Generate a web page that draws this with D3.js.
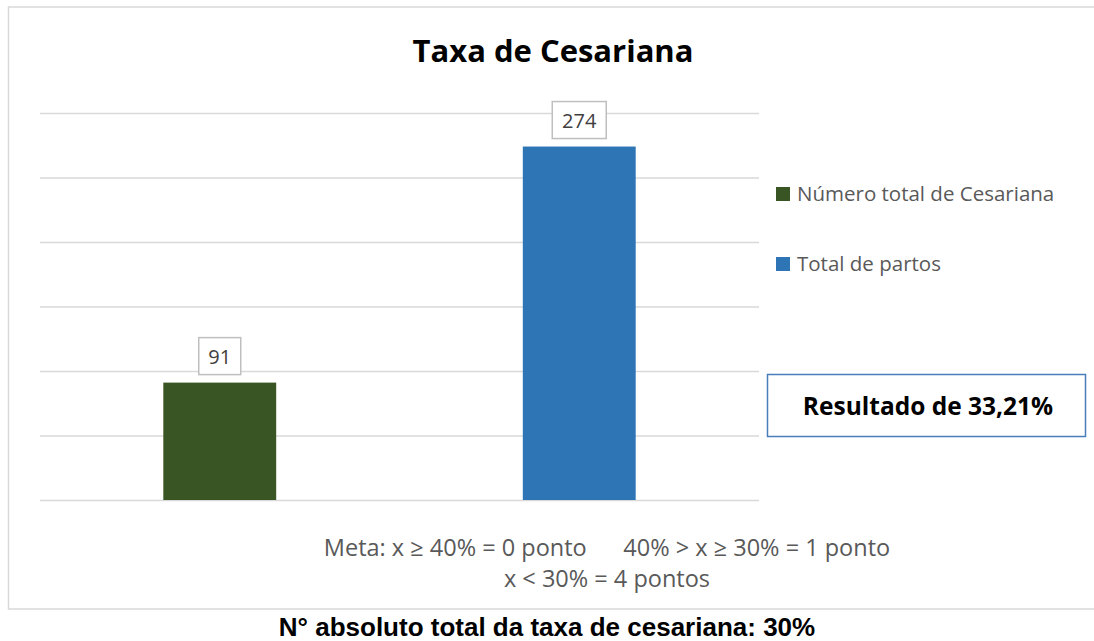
<!DOCTYPE html>
<html lang="pt">
<head>
    <meta charset="UTF-8" />
    <title>Taxa de Cesariana</title>
    <script src="https://d3js.org/d3.v7.min.js"></script>
    <style>
        body { margin: 0; background: #fff; }
        .gridlines line { stroke: #d9d9d9; stroke-width: 1.5; }
        .gridlines .domain { stroke: none; }
        text { font-family: "Open Sans", Lato, sans-serif; }
    </style>
</head>
<body>
    <svg id="chart" width="1094" height="641"></svg>
    <script>
        const categories = ["Número total de Cesariana", "Total de partos"];
        const values = [91, 274];
        const colors = ["#3a5524", "#2e75b6"];
        const yTicks = [0, 50, 100, 150, 200, 250, 300];
        const title = "Taxa de Cesariana";
        const resultText = "Resultado de 33,21%";
        const metaLines = ["Meta: x \u2265 40% = 0 ponto      40% > x \u2265 30% = 1 ponto", "x < 30% = 4 pontos"];
        const footer = "N° absoluto total da taxa de cesariana: 30%";

        const svg = d3.select("svg#chart");
        const margins = { top: 113, right: 335, bottom: 141, left: 40 };
        const chartWidth = 1094 - margins.left - margins.right;
        const chartHeight = 641 - margins.top - margins.bottom;

        // outer frame
        svg.append("rect")
            .attr("x", 8.5).attr("y", 7)
            .attr("width", 1100).attr("height", 602)
            .attr("fill", "none")
            .attr("stroke", "#d9d9d9")
            .attr("stroke-width", 1.5);

        svg.append("text")
            .attr("x", 553).attr("y", 62)
            .attr("text-anchor", "middle")
            .attr("font-size", 31)
            .attr("font-weight", "bold")
            .attr("fill", "#000")
            .text(title);

        const chartArea = svg.append("g")
            .attr("transform", `translate(${margins.left},${margins.top})`);

        const xScale = d3.scaleBand()
            .domain(categories)
            .range([0, chartWidth])
            .paddingInner(0.686)
            .paddingOuter(0.343);

        const yScale = d3.scaleLinear()
            .domain([0, 300])
            .range([chartHeight, 0]);

        chartArea.append("g")
            .attr("class", "gridlines")
            .call(d3.axisLeft(yScale).tickValues(yTicks).tickFormat("").tickSize(-chartWidth));

        chartArea.selectAll("rect.bar")
            .data(values)
            .join("rect")
            .attr("class", "bar")
            .attr("x", (d, i) => xScale(categories[i]))
            .attr("y", d => yScale(d))
            .attr("width", xScale.bandwidth())
            .attr("height", d => chartHeight - yScale(d))
            .attr("fill", (d, i) => colors[i]);

        // data labels in boxes
        const labels = chartArea.selectAll("g.label")
            .data(values)
            .join("g")
            .attr("class", "label")
            .attr("transform", (d, i) => `translate(${xScale(categories[i]) + xScale.bandwidth() / 2},${yScale(d) - 8})`);

        labels.append("rect")
            .attr("x", d => -(String(d).length * 12 + 18) / 2)
            .attr("y", -37)
            .attr("width", d => String(d).length * 12 + 18)
            .attr("height", 37)
            .attr("fill", "#fff")
            .attr("stroke", "#bfbfbf")
            .attr("stroke-width", 1.5);

        labels.append("text")
            .attr("y", -11)
            .attr("text-anchor", "middle")
            .attr("font-size", 20)
            .attr("fill", "#404040")
            .text(d => d);

        // legend
        const legend = svg.selectAll("g.legend")
            .data(categories)
            .join("g")
            .attr("class", "legend")
            .attr("transform", (d, i) => `translate(776,${187 + i * 70})`);

        legend.append("rect")
            .attr("width", 14).attr("height", 14)
            .attr("fill", (d, i) => colors[i]);

        legend.append("text")
            .attr("x", 21).attr("y", 14)
            .attr("font-size", 20.5)
            .attr("fill", "#595959")
            .text(d => d);

        // result box
        svg.append("rect")
            .attr("x", 767.5).attr("y", 374.5)
            .attr("width", 318).attr("height", 62)
            .attr("fill", "#fff")
            .attr("stroke", "#4a7ebb")
            .attr("stroke-width", 1.5);

        svg.append("text")
            .attr("x", 928).attr("y", 415)
            .attr("text-anchor", "middle")
            .attr("font-size", 24.5)
            .attr("font-weight", "bold")
            .attr("fill", "#000")
            .text(resultText);

        svg.selectAll("text.meta")
            .data(metaLines)
            .join("text")
            .attr("class", "meta")
            .attr("x", 607)
            .attr("y", (d, i) => 556 + i * 31)
            .attr("text-anchor", "middle")
            .attr("font-size", 23.5)
            .attr("fill", "#595959")
            .style("white-space", "pre")
            .text(d => d);

        svg.append("text")
            .attr("x", 547).attr("y", 636)
            .attr("text-anchor", "middle")
            .attr("font-size", 26)
            .attr("font-weight", "bold")
            .attr("fill", "#000")
            .style("font-family", "'Liberation Sans', Arial, sans-serif")
            .text(footer);
    </script>
</body>
</html>
